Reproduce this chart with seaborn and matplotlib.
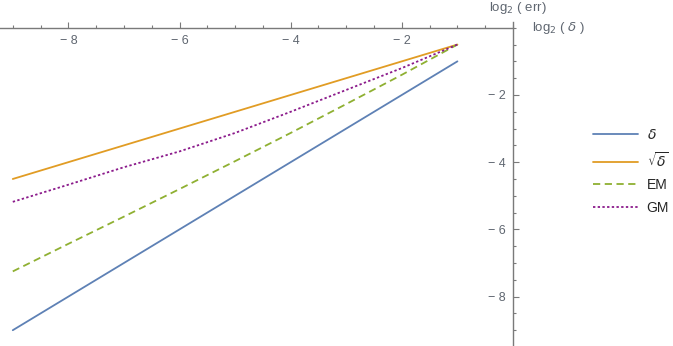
import seaborn as sns
import matplotlib.pyplot as plt
import pandas as pd
from matplotlib.ticker import MultipleLocator, FixedLocator

# data (log2 scale)
log_delta = [-9, -8, -7, -6, -5, -4, -3, -2, -1]
err_delta = [-9, -8, -7, -6, -5, -4, -3, -2, -1]
err_sqrt = [-4.5, -4.0, -3.5, -3.0, -2.5, -2.0, -1.5, -1.0, -0.5]
err_em = [-7.25, -6.43, -5.62, -4.8, -3.97, -3.13, -2.27, -1.4, -0.5]
err_gm = [-5.18, -4.67, -4.15, -3.68, -3.13, -2.5, -1.85, -1.2, -0.5]
names = [r'$\delta$', r'$\sqrt{\delta}$', 'EM', 'GM']

frames = []
for name, vals in zip(names, [err_delta, err_sqrt, err_em, err_gm]):
    frames.append(pd.DataFrame({'x': log_delta, 'y': vals, 'series': name}))
df = pd.concat(frames, ignore_index=True)

sns.set_style('white')
plt.rcParams['font.family'] = ['Liberation Sans', 'DejaVu Sans']
plt.rcParams['mathtext.fontset'] = 'dejavusans'

axis_col = '#7a7a7a'
text_col = '#5f6670'
palette = {names[0]: '#5E81B5', names[1]: '#E19C24', names[2]: '#8FB032', names[3]: '#8B1A8B'}
dashes = {names[0]: '', names[1]: '', names[2]: (4, 2.5), names[3]: (1.3, 1.3)}

fig = plt.figure(figsize=(6.73, 3.46), dpi=100)
ax = fig.add_axes([0, 0, 513 / 673, (346 - 21.7) / 346])

sns.lineplot(data=df, x='x', y='y', hue='series', style='series',
             palette=palette, dashes=dashes, linewidth=1.3, ax=ax)

ax.set_xlim(-9.23, 0)
ax.set_ylim(-9.47, 0.18)

for s in ['top', 'right']:
    ax.spines[s].set_visible(False)
ax.spines['bottom'].set_position(('data', 0))
ax.spines['left'].set_position(('data', 0))
for s in ['bottom', 'left']:
    ax.spines[s].set_color(axis_col)
    ax.spines[s].set_linewidth(1.0)

ax.xaxis.set_major_locator(FixedLocator([-8, -6, -4, -2]))
ax.yaxis.set_major_locator(FixedLocator([-8, -6, -4, -2]))
ax.xaxis.set_minor_locator(MultipleLocator(0.5))
ax.yaxis.set_minor_locator(MultipleLocator(0.5))
ax.set_xticklabels(['\u2212 8', '\u2212 6', '\u2212 4', '\u2212 2'])
ax.set_yticklabels(['\u2212 8', '\u2212 6', '\u2212 4', '\u2212 2'])
ax.tick_params(which='major', direction='in', length=4, width=0.8, color=axis_col,
               labelsize=9, labelcolor=text_col, pad=5)
ax.tick_params(which='minor', direction='in', length=2, width=0.8, color=axis_col)
ax.tick_params(axis='x', which='both', bottom=True)
ax.tick_params(axis='y', which='both', left=True)
ax.set_xlabel('')
ax.set_ylabel('')

fig.text(489 / 673, 1 - 8 / 346, r'log$_2$ ( err)', fontsize=9.5, color=text_col,
         ha='left', va='center')
fig.text(532 / 673, 1 - 28 / 346, r'log$_2$ ( $\delta$ )', fontsize=9.5, color=text_col,
         ha='left', va='center')

handles, labels = ax.get_legend_handles_labels()
ax.legend(handles, labels, loc='center left', bbox_to_anchor=(580 / 513, 0.538),
          bbox_transform=ax.transAxes, frameon=False, fontsize=10,
          handlelength=3.3, labelspacing=0.62, handletextpad=0.6)

fig.savefig('out.png', dpi=100)
plt.close()
